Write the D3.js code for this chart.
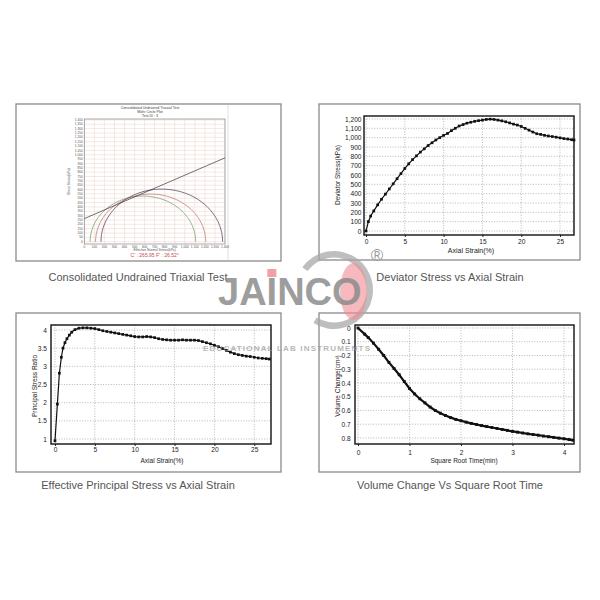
<!DOCTYPE html>
<html><head><meta charset="utf-8">
<script src="https://cdn.jsdelivr.net/npm/d3@7"></script>
<style>body{margin:0;background:#fff}svg{display:block}text{font-family:"Liberation Sans",Arial,sans-serif}</style>
</head><body><svg id="c" width="600" height="600"></svg>
<script>
// ---------- DATA ----------
const captions = ["Consolidated Undrained Triaxial Test","Deviator Stress vs Axial Strain","Effective Principal Stress vs Axial Strain","Volume Change Vs Square Root Time"];

// Mohr circle plot
const mohrTitle = ["Consolidated Undrained Triaxial Test","Mohr Circle Plot","Test ID :  3"];
const mohrCenters = [583, 660, 771];
const mohrRadii = [525, 548, 605];
const mohrColors = ["#7da06f", "#c07c78", "#5e4560"];
const mohrCohesion = 265.95;
const mohrPhi = 26.52;
const mohrXTicks = [0,100,200,300,400,500,600,700,800,900,1000,1100,1200,1300,1400];
const mohrYTicks = [0,50,100,150,200,250,300,350,400,450,500,550,600,650,700,750,800,850,900,950,1000,1050,1100,1150,1200,1250,1300,1350,1400];

// Deviator stress vs axial strain
const devStrain = [0,0.3,0.6,1,1.5,2,2.5,3,3.5,4,4.5,5,5.5,6,6.5,7,7.5,8,8.5,9,9.5,10,10.5,11,11.5,12,12.5,13,13.5,14,14.5,15,15.5,16,16.5,17,17.5,18,18.5,19,19.5,20,20.5,21,21.5,22,22.5,23,23.5,24,24.5,25,25.5,26,26.5,26.8];
const devStress = [0,100,160,215,280,340,395,450,505,560,615,670,720,765,805,845,880,915,945,975,1000,1025,1045,1075,1100,1125,1140,1155,1165,1175,1182,1188,1195,1198,1195,1188,1180,1170,1158,1145,1135,1120,1100,1080,1060,1042,1035,1025,1018,1012,1005,998,990,985,978,975];
const devXTicks = [0,5,10,15,20,25];
const devYTicks = [0,100,200,300,400,500,600,700,800,900,1000,1100,1200];

// Principal stress ratio vs axial strain
const psrStrain = [0,0.3,0.55,0.8,1,1.25,1.5,1.8,2.1,2.5,3,3.5,4,4.5,5,5.5,6,6.5,7,7.5,8,8.5,9,9.5,10,10.5,11,11.5,12,12.5,13,13.5,14,14.5,15,15.5,16,16.5,17,17.5,18,18.5,19,19.5,20,20.5,21,21.5,22,22.5,23,23.5,24,24.5,25,25.5,26,26.5,26.9];
const psrRatio = [0.95,1.96,2.81,3.25,3.5,3.65,3.76,3.86,3.94,4.01,4.05,4.06,4.06,4.05,4.04,4.01,3.98,3.96,3.94,3.92,3.9,3.88,3.86,3.84,3.82,3.81,3.81,3.82,3.81,3.79,3.76,3.74,3.73,3.72,3.72,3.72,3.73,3.72,3.72,3.72,3.71,3.68,3.65,3.62,3.58,3.54,3.49,3.44,3.39,3.35,3.32,3.3,3.28,3.27,3.25,3.23,3.22,3.21,3.2];
const psrXTicks = [0,5,10,15,20,25];
const psrYTicks = [1,1.5,2,2.5,3,3.5,4];

// Volume change vs square root time
const volTime = [0,0.13,0.2,0.3,0.4,0.5,0.6,0.7,0.8,0.9,1.0,1.1,1.2,1.3,1.4,1.5,1.6,1.7,1.8,1.9,2.0,2.1,2.2,2.3,2.4,2.5,2.6,2.7,2.8,2.9,3.0,3.1,3.2,3.3,3.4,3.5,3.6,3.7,3.8,3.9,4.0,4.1,4.17];
const volChange = [0,0.045,0.07,0.11,0.155,0.2,0.25,0.295,0.34,0.39,0.44,0.48,0.515,0.545,0.575,0.6,0.62,0.637,0.652,0.665,0.675,0.685,0.694,0.702,0.71,0.717,0.724,0.731,0.738,0.745,0.752,0.758,0.764,0.77,0.775,0.78,0.786,0.791,0.796,0.801,0.806,0.812,0.816];
const volXTicks = [0,1,2,3,4];
const volYTicks = [0,0.1,0.2,0.3,0.4,0.5,0.6,0.7,0.8];

const watermark = {brand:"JAINCO", tagline:"EDUCATIONAL LAB INSTRUMENTS", mark:"®"};

// ---------- DRAW ----------
const svg = d3.select("#c");
svg.append("rect").attr("width",600).attr("height",600).attr("fill","#fff");

const panels = [{x:16,y:104,w:265,h:157},{x:319,y:104,w:261,h:156},{x:16,y:313,w:265,h:159},{x:319,y:313,w:261,h:159}];
svg.selectAll("rect.panel").data(panels).join("rect").attr("class","panel")
  .attr("x",d=>d.x).attr("y",d=>d.y).attr("width",d=>d.w).attr("height",d=>d.h)
  .attr("fill","#fff").attr("stroke","#8a8a8a").attr("stroke-width",1.3);

const capPos = [[138,281],[450,281],[138,489],[450,489]];
svg.selectAll("text.cap").data(captions).join("text").attr("class","cap")
  .attr("x",(d,i)=>capPos[i][0]).attr("y",(d,i)=>capPos[i][1])
  .attr("text-anchor","middle").attr("font-size",11).attr("fill","#555").text(d=>d);

// ---- Mohr circle chart ----
(function(){
  const g = svg.append("g");
  g.append("line").attr("x1",228).attr("x2",228).attr("y1",105).attr("y2",260).attr("stroke","#d8d8d8").attr("stroke-width",0.8);
  const L=84.3,R=225,T=119,B=244;
  const x = d3.scaleLinear().domain([0,1400]).range([L,R]);
  const y = d3.scaleLinear().domain([-26,1411]).range([B,T]);
  g.append("g").selectAll("line").data(mohrXTicks).join("line")
    .attr("x1",d=>x(d)).attr("x2",d=>x(d)).attr("y1",T).attr("y2",B).attr("stroke","#eed8d2").attr("stroke-width",0.6);
  g.append("g").selectAll("line").data(mohrYTicks).join("line")
    .attr("x1",L).attr("x2",R).attr("y1",d=>y(d)).attr("y2",d=>y(d)).attr("stroke","#eed8d2").attr("stroke-width",0.6);
  g.append("rect").attr("x",L).attr("y",T).attr("width",R-L).attr("height",B-T).attr("fill","none").attr("stroke","#888").attr("stroke-width",0.7);
  const fmt = d3.format(",");
  g.append("g").selectAll("text").data(mohrYTicks).join("text")
    .attr("x",L-1.5).attr("y",d=>y(d)+1.1).attr("text-anchor","end").attr("font-size",3.2).attr("fill","#555").text(d=>fmt(d));
  g.append("g").selectAll("text").data(mohrXTicks).join("text")
    .attr("x",d=>x(d)).attr("y",B+3.6).attr("text-anchor","middle").attr("font-size",3.2).attr("fill","#555").text(d=>fmt(d));
  g.append("g").selectAll("text").data(mohrTitle).join("text")
    .attr("x",150).attr("y",(d,i)=>108.5+i*4).attr("text-anchor","middle").attr("font-size",3.6).attr("fill","#444").text(d=>d);
  g.append("text").attr("x",(L+R)/2).attr("y",B+7.2).attr("text-anchor","middle").attr("font-size",3.3).attr("fill","#555").text("Effective Normal Stress(kPa)");
  g.append("text").attr("transform",`translate(70,${(T+B)/2}) rotate(-90)`).attr("text-anchor","middle").attr("font-size",3.3).attr("fill","#555").text("Shear Stress(kPa)");
  g.append("text").attr("x",(L+R)/2).attr("y",B+12.5).attr("text-anchor","middle").attr("font-size",5).attr("fill","#c94a4a")
    .text(`C' : ${mohrCohesion}   F' : ${mohrPhi}°`);
  const angles = d3.range(0,181,2);
  const line = d3.line();
  mohrCenters.forEach((c,i)=>{
    const r = mohrRadii[i];
    g.append("path").attr("d", line(angles.map(a=>[x(c + r*Math.cos(a*Math.PI/180)), y(r*Math.sin(a*Math.PI/180))])))
      .attr("fill","none").attr("stroke",mohrColors[i]).attr("stroke-width",0.8);
  });
  const tanP = Math.tan(mohrPhi*Math.PI/180);
  g.append("line").attr("x1",x(0)).attr("y1",y(mohrCohesion)).attr("x2",x(1400)).attr("y2",y(mohrCohesion+1400*tanP))
    .attr("stroke","#333").attr("stroke-width",0.7);
})();

// ---- generic line chart ----
function lineChart(o){
  const g = svg.append("g");
  const x = d3.scaleLinear().domain(o.xDom).range([o.L,o.R]);
  const y = d3.scaleLinear().domain(o.yDom).range(o.invert?[o.T,o.B]:[o.B,o.T]);
  g.append("g").selectAll("line").data(o.xTicks).join("line")
    .attr("x1",d=>x(d)).attr("x2",d=>x(d)).attr("y1",o.T).attr("y2",o.B)
    .attr("stroke","#9a9a9a").attr("stroke-width",0.7).attr("stroke-dasharray","1,1.6");
  g.append("g").selectAll("line").data(o.yTicks).join("line")
    .attr("x1",o.L).attr("x2",o.R).attr("y1",d=>y(d)).attr("y2",d=>y(d))
    .attr("stroke","#9a9a9a").attr("stroke-width",0.7).attr("stroke-dasharray","1,1.6");
  const ax = g.append("g").attr("transform",`translate(0,${o.B})`)
    .call(d3.axisBottom(x).tickValues(o.xTicks).tickSize(2).tickPadding(o.xPad).tickFormat(o.xFmt));
  const ay = g.append("g").attr("transform",`translate(${o.L},0)`)
    .call(d3.axisLeft(y).tickValues(o.yTicks).tickSize(0).tickPadding(o.yPad).tickFormat(o.yFmt));
  [ax,ay].forEach(a=>{a.select(".domain").remove(); a.selectAll("line").attr("stroke","#222");
    a.selectAll("text").attr("font-size",6.6).attr("fill","#222").attr("font-family",'"Liberation Sans",Arial,sans-serif');});
  g.append("rect").attr("x",o.L).attr("y",o.T).attr("width",o.R-o.L).attr("height",o.B-o.T)
    .attr("fill","none").attr("stroke","#111").attr("stroke-width",1.4);
  g.append("text").attr("x",o.xtPos[0]).attr("y",o.xtPos[1]).attr("text-anchor","middle").attr("font-size",o.xtSize).attr("fill","#222").text(o.xTitle);
  g.append("text").attr("transform",`translate(${o.ytPos[0]},${o.ytPos[1]}) rotate(-90)`).attr("text-anchor","middle").attr("font-size",6.5).attr("fill","#222").text(o.yTitle);
  const pts = o.xs.map((v,i)=>[x(v), y(o.ys[i])]);
  g.append("path").attr("d",d3.line()(pts)).attr("fill","none").attr("stroke","#111").attr("stroke-width",o.lw);
  g.append("g").selectAll("rect").data(pts).join("rect")
    .attr("x",d=>d[0]-o.ms/2).attr("y",d=>d[1]-o.ms/2).attr("width",o.ms).attr("height",o.ms).attr("fill","#111");
}

lineChart({L:364,R:574,T:116,B:235,xDom:[-0.26,26.8],yDom:[-43,1232],xTicks:devXTicks,yTicks:devYTicks,
  xFmt:d3.format("d"),yFmt:d3.format(","),xPad:2,yPad:2.5,xTitle:"Axial Strain(%)",yTitle:"Deviator Stress(kPa)",xtSize:7,
  xtPos:[471,252.5],ytPos:[340.3,175],xs:devStrain,ys:devStress,lw:1.2,ms:2.7});

lineChart({L:51,R:271,T:325,B:444,xDom:[-0.5,27.1],yDom:[0.862,4.138],xTicks:psrXTicks,yTicks:psrYTicks,
  xFmt:d3.format("d"),yFmt:d=>String(d),xPad:1,yPad:4,xTitle:"Axial Strain(%)",yTitle:"Principal Stress Ratio",xtSize:6.5,
  xtPos:[162,462.5],ytPos:[37.3,386],xs:psrStrain,ys:psrRatio,lw:1.2,ms:2.7});

lineChart({L:355,R:574,T:325,B:444,xDom:[-0.058,4.194],yDom:[-0.0218,0.844],invert:true,xTicks:volXTicks,yTicks:volYTicks,
  xFmt:d3.format("d"),yFmt:d=>String(d),xPad:4,yPad:4.3,xTitle:"Square Root Time(min)",yTitle:"Volume Change(cm³)",xtSize:6.5,
  xtPos:[464,463],ytPos:[340.3,386],xs:volTime,ys:volChange,lw:2.2,ms:2.9});

// ---- watermark ----
(function(){
  const w = svg.append("g");
  const arc = d3.arc().innerRadius(32.5).outerRadius(39).startAngle(-0.95).endAngle(3.7);
  w.append("path").attr("d",arc()).attr("transform","translate(334,290)").attr("fill","#a8a8a8").attr("opacity",0.75);
  w.append("ellipse").attr("cx",353.5).attr("cy",291.5).attr("rx",13.5).attr("ry",28.5).attr("fill","#f08a92").attr("opacity",0.6);
  const t = w.append("text").attr("x",218).attr("y",305).attr("font-size",38).attr("font-weight","bold")
    .attr("fill","#8c8c8c").attr("opacity",0.85).text(watermark.brand);
  const e = t.node().getExtentOfChar(2);
  w.append("rect").attr("x",e.x+e.width/2-4.5).attr("y",269).attr("width",9).attr("height",8).attr("fill","#f2a0a7");
  w.append("text").attr("x",377).attr("y",261).attr("text-anchor","middle").attr("font-size",17).attr("fill","#9a9a9a").text(watermark.mark);
  w.append("text").attr("x",203).attr("y",351).attr("textLength",167).attr("lengthAdjust","spacing")
    .attr("font-size",8).attr("font-weight","bold").attr("fill","#9a9a9a").attr("opacity",0.7).text(watermark.tagline);
})();
</script></body></html>
